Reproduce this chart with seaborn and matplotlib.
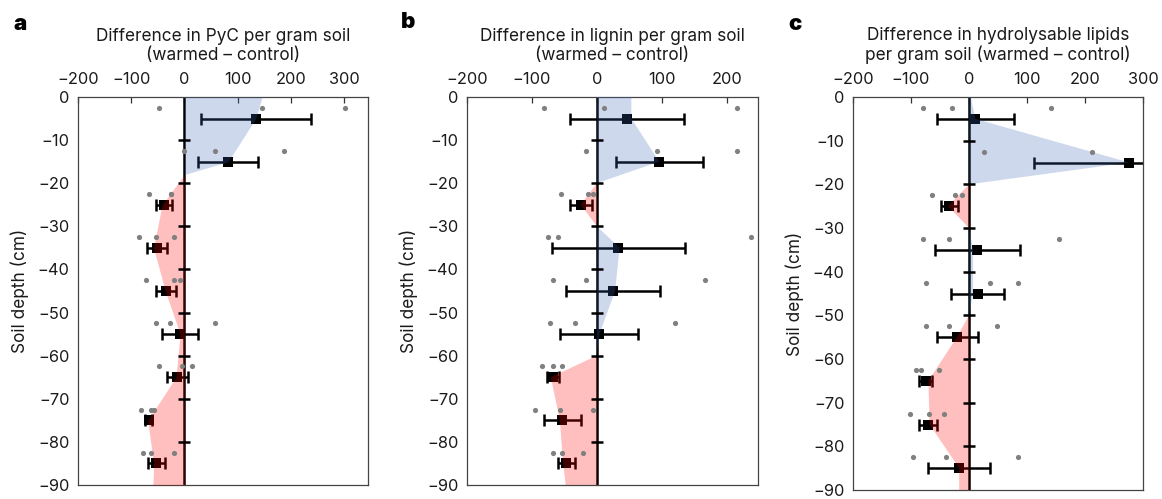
import numpy as np
import pandas as pd
import matplotlib
matplotlib.use("Agg")
import matplotlib.pyplot as plt
import seaborn as sns

# ---------------- data ----------------
mean_depth = [-5, -15, -25, -35, -45, -55, -65, -75, -85]
point_depth = [-2.5, -12.5, -22.5, -32.5, -42.5, -52.5, -62.5, -72.5, -82.5]

# Panel a: PyC
pyc_points = [[-47, 145, 302], [-1, 58, 187], [-67, -25, -25], [-85, -53, -19],
              [-72, -20, -9], [-53, -28, 58], [-48, -4, 14], [-82, -63, -58],
              [-77, -62, -19]]
pyc_mean = [134, 82, -38, -52, -34, -8, -13, -67, -53]
pyc_se = [103, 57, 15, 19, 19, 34, 19, 7, 16]
pyc_shade_depth = [0, -5, -15, -18, -25, -35, -45, -55, -65, -75, -85, -90]
pyc_shade_value = [146, 134, 82, 0, -42, -58, -36, -8, -16, -69, -58, -59]

# Panel b: lignin
lig_points = [[-81, 11, 215], [-17, 92, 215], [-56, -13, -6], [-76, -60, 237],
              [-68, -17, 167], [-72, -33, 120], [-84, -68, -53], [-96, -57, -6],
              [-68, -53, -21]]
lig_mean = [46, 96, -25, 33, 25, 3, -68, -53, -47]
lig_se = [88, 67, 17, 102, 72, 60, 9, 28, 13]
lig_shade_depth = [0, -5, -15, -20, -25, -30, -35, -45, -55, -60, -65, -75, -85, -90]
lig_shade_value = [53, 53, 96, 0, -25, 0, 35, 28, 4, 0, -71, -57, -52, -48]

# Panel c: hydrolysable lipids
lip_points = [[-79, -30, 141], [26, 212, 590], [-64, -25, -12], [-79, -35, 155],
              [-74, 36, 84], [-74, -35, 49], [-92, -83, -52], [-101, -69, -43],
              [-96, -39, 84]]
lip_mean = [11, 276, -34, 14, 15, -20, -75, -71, -17]
lip_se = [67, 164, 15, 73, 46, 36, 11, 15, 53]
lip_shade_depth = [0, -5, -15, -20, -25, -30, -35, -45, -50, -55, -65, -75, -85, -90]
lip_shade_value = [3, 11, 276, 0, -36, 0, 7, 7, 0, -21, -70, -68, -17, -17]

depth_ticks = [0, -10, -20, -30, -40, -50, -60, -70, -80, -90]

panels = [
    dict(letter="a", title="Difference in PyC per gram soil\n(warmed \u2013 control)",
         points=pyc_points, mean=pyc_mean, se=pyc_se,
         sd=pyc_shade_depth, sv=pyc_shade_value,
         xlim=(-200, 345), xticks=[-200, -100, 0, 100, 200, 300],
         rect=[0.0671, 0.0281, 0.2496, 0.7776], letter_xy=(0.0172, 0.952)),
    dict(letter="b", title="Difference in lignin per gram soil\n(warmed \u2013 control)",
         points=lig_points, mean=lig_mean, se=lig_se,
         sd=lig_shade_depth, sv=lig_shade_value,
         xlim=(-200, 248), xticks=[-200, -100, 0, 100, 200],
         rect=[0.4019, 0.0281, 0.2504, 0.7776], letter_xy=(0.351, 0.956)),
    dict(letter="c", title="Difference in hydrolysable lipids\nper gram soil (warmed \u2013 control)",
         points=lip_points, mean=lip_mean, se=lip_se,
         sd=lip_shade_depth, sv=lip_shade_value,
         xlim=(-200, 300), xticks=[-200, -100, 0, 100, 200, 300],
         rect=[0.7341, 0.0180, 0.2496, 0.7876], letter_xy=(0.684, 0.952)),
]

# ---------------- style ----------------
sns.set_theme(style="white")
plt.rcParams["font.family"] = ["Inter", "DejaVu Sans"]
plt.rcParams["axes.unicode_minus"] = True

BLUE = (60 / 255, 100 / 255, 180 / 255)
RED = (1.0, 0.0, 0.0)
SHADE_ALPHA = 0.25
TEXT = "#1a1a1a"

fig = plt.figure(figsize=(11.62, 4.99), dpi=100)

for p in panels:
    ax = fig.add_axes(p["rect"])

    # individual replicate values
    pts = pd.DataFrame({
        "value": np.concatenate([np.asarray(v, float) for v in p["points"]]),
        "depth": np.repeat(point_depth, [len(v) for v in p["points"]]),
    })
    sns.scatterplot(data=pts, x="value", y="depth", ax=ax, color="#808080",
                    s=14, linewidth=0, zorder=5, legend=False)

    # means with standard errors
    ax.errorbar(p["mean"], mean_depth, xerr=p["se"], fmt="none", ecolor="black",
                elinewidth=1.8, capsize=4, capthick=1.8, zorder=2)
    sns.scatterplot(x=p["mean"], y=mean_depth, ax=ax, marker="s", color="black",
                    s=55, linewidth=0, zorder=2.5, legend=False)

    # zero line
    ax.axvline(0, color="black", lw=1.8, zorder=2)

    # shaded profile: gain (blue) / loss (red)
    sd = np.asarray(p["sd"], float)
    sv = np.asarray(p["sv"], float)
    ax.fill_betweenx(sd, 0, sv, where=sv >= 0, interpolate=True,
                     color=BLUE, alpha=SHADE_ALPHA, linewidth=0, zorder=3)
    ax.fill_betweenx(sd, 0, sv, where=sv <= 0, interpolate=True,
                     color=RED, alpha=SHADE_ALPHA, linewidth=0, zorder=3)

    # depth ticks sitting on the zero line
    inner = depth_ticks[1:-1]
    ax.plot(np.zeros(len(inner)), inner, linestyle="none", marker="_",
            markersize=8.5, markeredgewidth=1.8, color="black", zorder=4,
            clip_on=False)

    ax.set_xlim(*p["xlim"])
    ax.set_ylim(-90, 0)
    ax.set_xticks(p["xticks"])
    ax.set_yticks(depth_ticks)
    ax.xaxis.tick_top()
    ax.xaxis.set_label_position("top")
    ax.tick_params(axis="x", top=True, bottom=False, direction="in", length=4,
                   width=0.9, color="#333333", labelsize=11.8, pad=7,
                   labelcolor=TEXT)
    ax.tick_params(axis="y", left=False, length=0, labelsize=11.8, pad=6,
                   labelcolor=TEXT)
    ax.set_xlabel(p["title"], fontsize=12.4, labelpad=9, linespacing=1.1,
                  color=TEXT)
    ax.set_ylabel("Soil depth (cm)", fontsize=12.4, labelpad=6, color=TEXT)
    for s in ax.spines.values():
        s.set_color("#444444")
        s.set_linewidth(0.9)
        s.set_visible(True)
    ax.grid(False)

    fig.text(p["letter_xy"][0], p["letter_xy"][1], p["letter"], fontsize=16,
             fontweight="black", ha="center", va="center", color="black")

fig.savefig("out.png", dpi=100)
